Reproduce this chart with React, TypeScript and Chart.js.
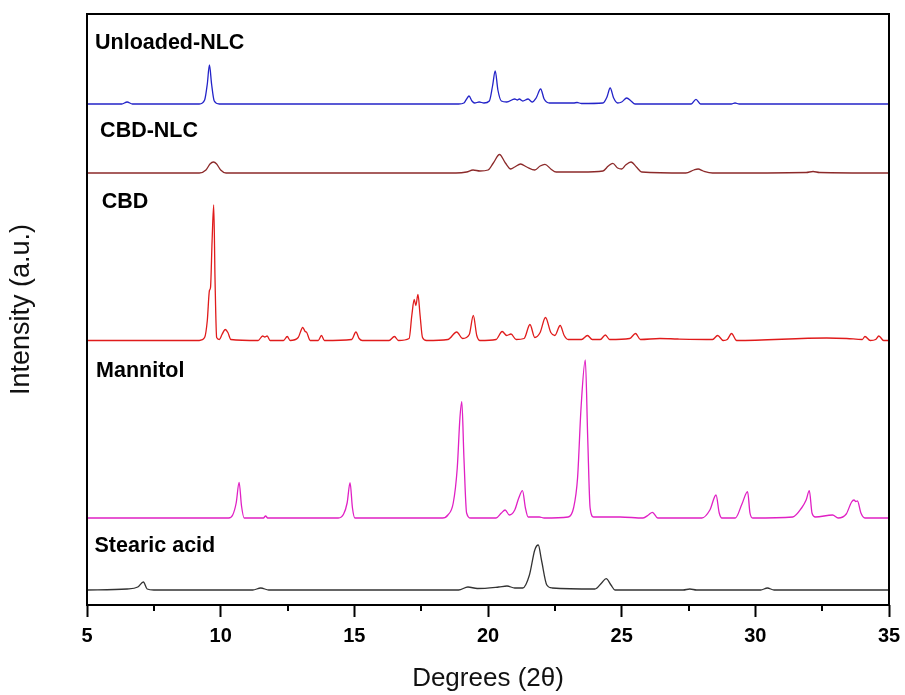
import React, { useEffect, useRef } from 'react';
import { Chart, registerables } from 'chart.js';

Chart.register(...registerables);

// 2θ (degrees) vs intensity above each trace's own baseline (a.u.)
const seriesNames = ['Unloaded-NLC', 'CBD-NLC', 'CBD', 'Mannitol', 'Stearic acid'];
const seriesColors = ['#2323c8', '#8c2a2a', '#e01b1b', '#e020c4', '#333333'];
// vertical stacking offsets of the traces (a.u.)
const offsets = [501, 432, 264.5, 87, 15];

const unloadedNLC: [number, number][] = [
  [5, 0], [6.3, 0], [6.5, 2], [6.7, 0],
  [9.2, 0], [9.4, 4], [9.5, 20], [9.58, 39], [9.66, 20], [9.76, 3], [9.95, 0],
  [18.9, 0], [19.1, 1], [19.2, 5], [19.29, 8], [19.4, 3], [19.5, 1], [19.67, 2], [19.85, 1],
  [20.05, 3], [20.17, 18], [20.27, 33], [20.37, 14], [20.5, 3], [20.7, 2],
  [21.0, 5], [21.1, 4], [21.17, 5], [21.3, 3], [21.5, 5], [21.65, 2], [21.8, 6], [21.97, 15], [22.1, 5], [22.3, 1],
  [23.2, 1], [23.33, 1.5], [23.5, 0.5], [24.3, 1], [24.45, 7], [24.57, 16], [24.7, 6], [24.85, 1],
  [25.0, 2], [25.19, 6], [25.35, 3], [25.5, 0],
  [27.6, 0], [27.78, 4.7], [27.95, 0], [29.1, 0], [29.24, 1], [29.4, 0], [35, 0],
];

const cbdNLC: [number, number][] = [
  [5, 0], [9.2, 0], [9.45, 3], [9.6, 9], [9.73, 11], [9.85, 9], [10.0, 3], [10.2, 0],
  [18.8, 0], [19.2, 1], [19.44, 3], [19.7, 2], [20.0, 3], [20.2, 10], [20.43, 18.5], [20.65, 10], [20.85, 4],
  [21.0, 6], [21.22, 9], [21.45, 6], [21.75, 3], [21.95, 7], [22.13, 8.7], [22.35, 4], [22.55, 1],
  [23.5, 1], [24.3, 2], [24.5, 7], [24.67, 9.7], [24.85, 5], [25.0, 4], [25.15, 8], [25.35, 11], [25.55, 6], [25.75, 1],
  [27.4, 0], [27.7, 3], [27.86, 4], [28.05, 2], [28.4, 0], [31.9, 0.5], [32.16, 1.5], [32.4, 0.5], [35, 0],
];

const cbd: [number, number][] = [
  [5, 0], [9.2, 0], [9.4, 3], [9.5, 20], [9.58, 50], [9.62, 53], [9.68, 100], [9.74, 135.5], [9.79, 60], [9.85, 3],
  [9.95, 1], [10.05, 6], [10.17, 11], [10.27, 8], [10.38, 1],
  [11.4, 0], [11.57, 4.5], [11.65, 3.5], [11.74, 4.5], [11.85, 0], [12.35, 0], [12.49, 4], [12.6, 0],
  [12.9, 3], [13.07, 13], [13.16, 9], [13.22, 8], [13.35, 0], [13.65, 0], [13.77, 5], [13.88, 0],
  [14.9, 1], [15.06, 8.5], [15.18, 2], [15.3, 0], [16.3, 0], [16.5, 4], [16.65, 0],
  [17.05, 2], [17.15, 25], [17.24, 41], [17.3, 35], [17.38, 46], [17.46, 25], [17.55, 3], [17.7, 0],
  [18.5, 1], [18.83, 8.5], [19.05, 2], [19.3, 6], [19.45, 25], [19.58, 5], [19.7, 0],
  [20.3, 1], [20.53, 9], [20.7, 5], [20.86, 6.5], [21.05, 1], [21.35, 2], [21.57, 16], [21.75, 3],
  [21.95, 8], [22.15, 23], [22.35, 8], [22.5, 5], [22.7, 15], [22.85, 5], [23.0, 1],
  [23.5, 1], [23.72, 5], [23.9, 1], [24.2, 1], [24.39, 5.5], [24.55, 1], [25.3, 2], [25.52, 7], [25.7, 1],
  [26.43, 2], [27.1, 1.5], [28.4, 1], [28.59, 5], [28.8, 0], [28.95, 1], [29.11, 7], [29.3, 0],
  [32.67, 2.5], [33.42, 2], [34.0, 1], [34.1, 4], [34.3, 0], [34.5, 1], [34.62, 4.5], [34.8, 0], [35, 0],
];

const mannitol: [number, number][] = [
  [5, 0], [10.3, 0], [10.45, 3], [10.58, 15], [10.69, 35.7], [10.78, 12], [10.88, 0],
  [11.6, 0], [11.68, 2], [11.76, 0],
  [14.4, 0], [14.6, 4], [14.73, 15], [14.84, 35.3], [14.93, 10], [15.02, 0],
  [18.3, 0], [18.5, 3], [18.7, 15], [18.85, 50], [18.95, 100], [19.02, 116.3], [19.1, 60], [19.2, 5], [19.35, 0],
  [20.3, 0], [20.5, 5], [20.64, 8], [20.8, 3], [21.0, 8], [21.15, 20], [21.29, 27.3], [21.4, 10], [21.5, 1],
  [21.92, 1], [22.1, 0],
  [23.0, 1], [23.2, 10], [23.35, 40], [23.48, 110], [23.64, 158], [23.73, 80], [23.82, 10], [23.95, 1],
  [24.94, 1], [25.8, 0], [26.0, 3], [26.15, 5.7], [26.35, 0],
  [28.0, 0], [28.3, 8], [28.53, 23], [28.65, 5], [28.75, 0],
  [29.25, 0], [29.5, 14], [29.71, 26.3], [29.8, 5], [29.9, 0],
  [31.4, 1], [31.73, 10], [31.9, 18], [32.02, 27.3], [32.12, 5], [32.25, 1], [32.89, 3], [33.1, 0],
  [33.4, 4], [33.6, 16], [33.69, 18], [33.76, 16.5], [33.82, 17], [33.95, 5], [34.1, 0], [35, 0],
];

const stearicAcid: [number, number][] = [
  [5, 0], [6.5, 1], [6.9, 3], [7.11, 8], [7.25, 1], [7.5, 0], [11.2, 0], [11.5, 2], [11.8, 0],
  [18.9, 0], [19.25, 3], [19.6, 1.5], [20.4, 3], [20.71, 4], [21.0, 2], [21.3, 2],
  [21.55, 15], [21.75, 40], [21.88, 45], [22.0, 30], [22.2, 5], [22.4, 2],
  [24.0, 1], [24.25, 7], [24.42, 11.3], [24.6, 5], [24.75, 0],
  [27.3, 0], [27.55, 1], [27.8, 0], [30.2, 0], [30.45, 2], [30.7, 0], [35, 0],
];

const seriesData = [unloadedNLC, cbdNLC, cbd, mannitol, stearicAcid];

const xMin = 5;
const xMax = 35;
const xMajorStep = 5;
const xMinorStep = 2.5;

const FONT = "'Liberation Sans', Arial, sans-serif";

const framePlugin = {
  id: 'frameAndMinorTicks',
  afterDraw(chart: any) {
    const { ctx, chartArea } = chart;
    const xs = chart.scales.x;
    ctx.save();
    ctx.strokeStyle = '#000';
    ctx.lineWidth = 2;
    ctx.strokeRect(chartArea.left, chartArea.top, chartArea.right - chartArea.left, chartArea.bottom - chartArea.top);
    // minor ticks
    ctx.lineWidth = 2;
    for (let v = xMin + xMinorStep; v < xMax; v += xMajorStep) {
      const px = Math.round(xs.getPixelForValue(v));
      ctx.beginPath();
      ctx.moveTo(px, chartArea.bottom);
      ctx.lineTo(px, chartArea.bottom + 6);
      ctx.stroke();
    }
    ctx.restore();
  },
};

const labelPlugin = {
  id: 'traceLabels',
  afterDatasetsDraw(chart: any, _args: any, opts: any) {
    const { ctx } = chart;
    const xs = chart.scales.x;
    const ys = chart.scales.y;
    ctx.save();
    ctx.fillStyle = '#000';
    ctx.font = `bold 21.5px ${FONT}`;
    ctx.textBaseline = 'alphabetic';
    ctx.textAlign = 'left';
    (opts.anchors || []).forEach((a: any, i: number) => {
      ctx.fillText(seriesNames[i], xs.getPixelForValue(a.x), ys.getPixelForValue(a.y));
    });
    ctx.restore();
  },
};

export default function App() {
  const ref = useRef<HTMLCanvasElement | null>(null);

  useEffect(() => {
    document.body.style.margin = '0';
    const canvas = ref.current;
    if (!canvas) return;
    const chart = new Chart(canvas, {
      type: 'line',
      data: {
        datasets: seriesData.map((s, i) => ({
          label: seriesNames[i],
          data: s.map(([x, y]) => ({ x, y: y + offsets[i] })),
          borderColor: seriesColors[i],
          borderWidth: 1.3,
          pointRadius: 0,
          fill: false,
          cubicInterpolationMode: 'monotone' as const,
        })),
      },
      options: {
        animation: false,
        responsive: false,
        devicePixelRatio: 1,
        parsing: true,
        layout: { padding: { top: 14, right: 16, left: 0, bottom: 0 } },
        plugins: {
          legend: { display: false },
          tooltip: { enabled: false },
          traceLabels: {
            anchors: [
              { x: 5.3, y: 555.7 },
              { x: 5.49, y: 467.7 },
              { x: 5.55, y: 396.7 },
              { x: 5.34, y: 228.3 },
              { x: 5.28, y: 53.3 },
            ],
          },
        } as any,
        scales: {
          x: {
            type: 'linear',
            min: xMin,
            max: xMax,
            afterFit: (scale: any) => {
              scale.height = 90;
              scale.paddingLeft = 0;
              scale.paddingRight = 0;
            },
            border: { display: false },
            grid: {
              display: true,
              drawOnChartArea: false,
              drawTicks: true,
              tickLength: 12,
              tickWidth: 2,
              tickColor: (c: any) => (c.tick && Math.abs(c.tick.value % xMajorStep) < 1e-6 ? '#000' : 'rgba(0,0,0,0)'),
            },
            ticks: {
              stepSize: xMajorStep,
              autoSkip: false,
              maxRotation: 0,
              padding: 7,
              color: '#000',
              font: { family: FONT, size: 20, weight: 'bold' },
              callback: (v: any) => String(v),
            },
            title: {
              display: true,
              text: 'Degrees (2θ)',
              color: '#111',
              font: { family: FONT, size: 26 },
              padding: { top: 0, bottom: 1 },
            },
          },
          y: {
            type: 'linear',
            min: 0,
            max: 591,
            afterFit: (scale: any) => { scale.width = 87; },
            border: { display: false },
            grid: { display: false, drawTicks: false },
            ticks: { display: false },
            title: {
              display: true,
              text: 'Intensity (a.u.)',
              color: '#111',
              font: { family: FONT, size: 27 },
              padding: { top: 5, bottom: 0 },
            },
          },
        },
      },
      plugins: [framePlugin, labelPlugin],
    } as any);
    return () => chart.destroy();
  }, []);

  return (
    <div style={{ position: 'absolute', left: 0, top: 0, width: 905, height: 695, background: '#fff' }}>
      <canvas ref={ref} width={905} height={695} style={{ display: 'block', width: 905, height: 695 }} />
    </div>
  );
}
